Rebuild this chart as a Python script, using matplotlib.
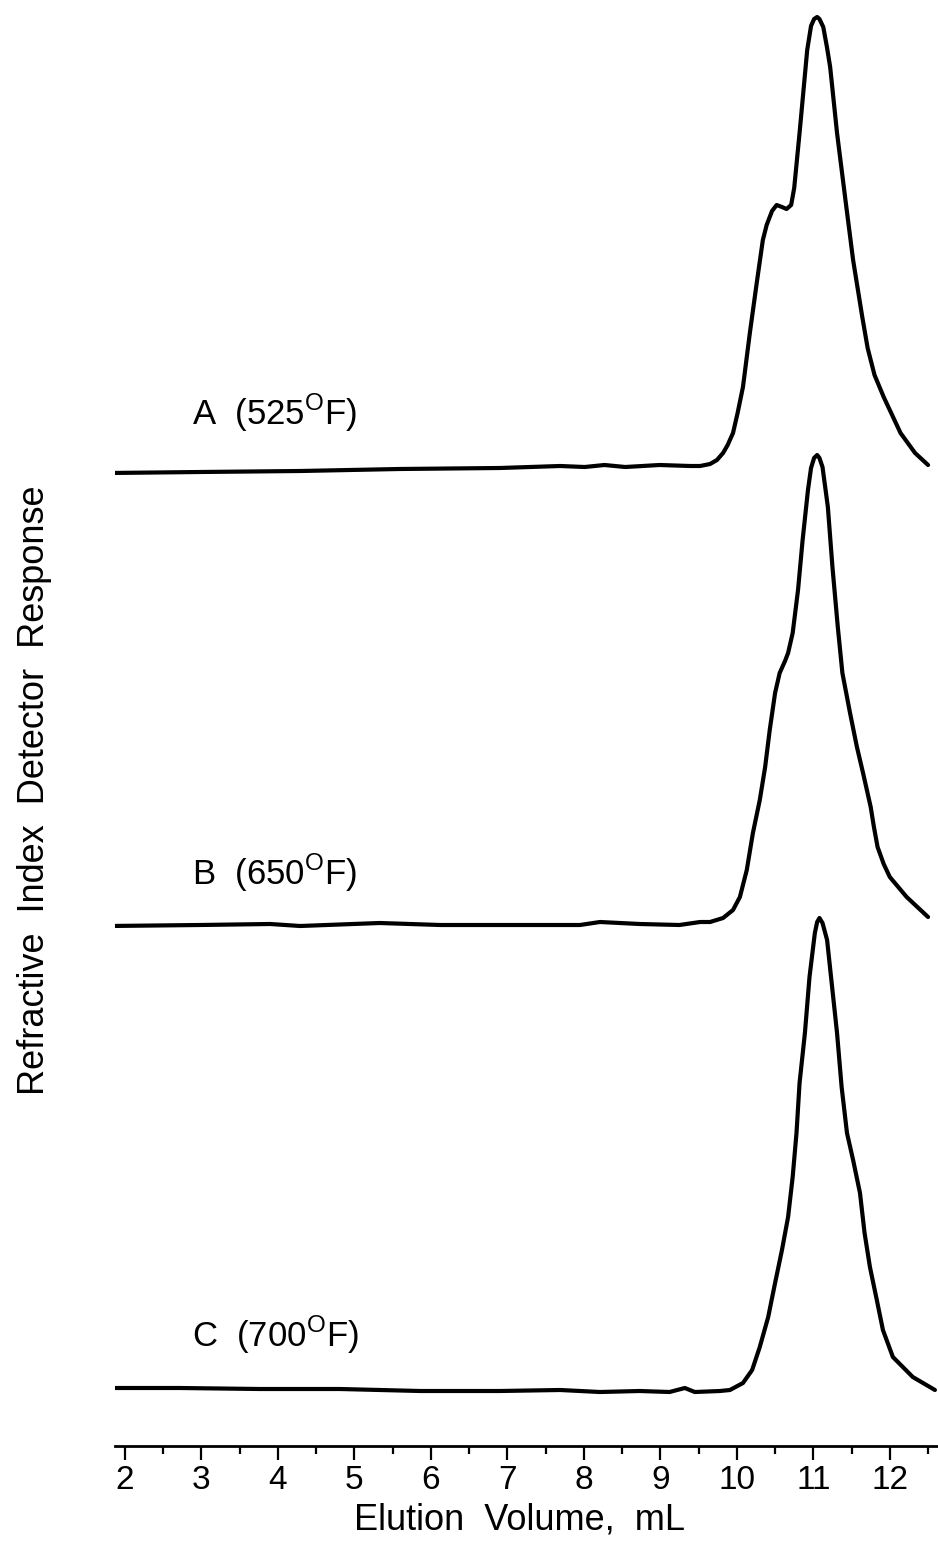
import matplotlib
matplotlib.use('Agg')
import matplotlib.pyplot as plt
from matplotlib.ticker import MultipleLocator

plt.rcParams['font.family'] = ['Liberation Sans', 'DejaVu Sans']
plt.rcParams['mathtext.fontset'] = 'custom'
plt.rcParams['mathtext.rm'] = 'Liberation Sans'

# elution volume (mL) and detector response (arbitrary units) for each run
vol_a = [1.80, 2.98, 4.29, 5.59, 6.90, 7.69, 8.01, 8.27, 8.54, 8.99, 9.39, 9.52,
         9.65, 9.74, 9.82, 9.88, 9.95, 10.01, 10.08, 10.17, 10.26, 10.34, 10.39,
         10.46, 10.52, 10.59, 10.65, 10.71, 10.75, 10.82, 10.92, 10.97, 11.01,
         11.05, 11.08, 11.13, 11.18, 11.22, 11.31, 11.42, 11.52, 11.64, 11.71,
         11.80, 11.92, 12.14, 12.33, 12.50]
resp_a = [0, 1, 2, 4, 5, 7, 6, 8, 6, 8, 7, 7,
          9, 13, 20, 28, 40, 60, 86, 140, 190, 233, 248,
          262, 268, 266, 264, 268, 285, 340, 423, 447, 454,
          456, 454, 446, 425, 406, 340, 273, 213, 156, 125,
          98, 76, 40, 20, 8]

vol_b = [1.80, 2.98, 3.90, 4.29, 5.33, 6.12, 7.16, 7.95, 8.21, 8.73, 9.25, 9.52,
         9.65, 9.82, 9.95, 10.04, 10.13, 10.21, 10.30, 10.37, 10.43, 10.50,
         10.56, 10.63, 10.67, 10.73, 10.80, 10.86, 10.93, 10.97, 11.01, 11.05,
         11.08, 11.12, 11.19, 11.25, 11.32, 11.38, 11.48, 11.57, 11.65, 11.75,
         11.79, 11.84, 11.92, 12.00, 12.22, 12.50]
resp_b = [0, 1, 2, 0, 3, 1, 1, 1, 4, 2, 1, 4,
          4, 8, 16, 29, 56, 93, 126, 159, 196, 233,
          253, 265, 273, 293, 336, 386, 436, 458, 468, 471,
          468, 459, 419, 359, 299, 253, 213, 179, 153, 119,
          100, 79, 62, 49, 29, 9]

vol_c = [1.87, 2.72, 3.76, 4.81, 5.86, 6.90, 7.69, 8.21, 8.73, 9.12, 9.32, 9.45,
         9.78, 9.91, 10.08, 10.20, 10.30, 10.41, 10.50, 10.59, 10.67, 10.73,
         10.78, 10.82, 10.89, 10.95, 11.02, 11.05, 11.08, 11.12, 11.18, 11.24,
         11.31, 11.37, 11.44, 11.52, 11.61, 11.67, 11.74, 11.83, 11.91, 12.04,
         12.30, 12.59]
resp_c = [0, 0, -1, -1, -3, -3, -2, -4, -3, -4, 0, -4,
          -3, -2, 5, 18, 41, 71, 105, 138, 171, 211,
          255, 305, 355, 411, 455, 466, 470, 465, 448, 405,
          355, 301, 255, 228, 195, 155, 121, 88, 58, 31,
          11, -2]

labels = ['A  (525$^{\\mathrm{O}}$F)', 'B  (650$^{\\mathrm{O}}$F)', 'C  (700$^{\\mathrm{O}}$F)']
offsets = [973, 520, 58]
label_rise = [48, 41, 41]

fig = plt.figure(figsize=(9.38, 15.49), dpi=100)
ax = fig.add_axes([115 / 938, 103 / 1549, 823 / 938, 1446 / 1549])

for v, r, off, lab, rise in zip([vol_a, vol_b, vol_c], [resp_a, resp_b, resp_c],
                                offsets, labels, label_rise):
    ax.plot(v, [y + off for y in r], color='black', lw=3.0,
            solid_joinstyle='round', solid_capstyle='round')
    ax.text(2.88, off + rise, lab, fontsize=25, ha='left', va='baseline')

ax.set_xlim(1.87, 12.63)
ax.set_ylim(0, 1446)
ax.xaxis.set_major_locator(MultipleLocator(1))
ax.xaxis.set_minor_locator(MultipleLocator(0.5))
ax.tick_params(axis='x', which='major', length=10, width=1.6, labelsize=24, pad=4)
ax.tick_params(axis='x', which='minor', length=6, width=1.6)
ax.set_yticks([])
for s in ['top', 'right', 'left']:
    ax.spines[s].set_visible(False)
ax.spines['bottom'].set_linewidth(2)

fig.text(520 / 938, 1 - 1520 / 1549, 'Elution  Volume,  mL', fontsize=26,
         ha='center', va='center')
fig.text(35 / 938, 1 - 790 / 1549, 'Refractive  Index  Detector  Response',
         fontsize=26, rotation=90, ha='center', va='center')

fig.savefig('out.png', dpi=100)
